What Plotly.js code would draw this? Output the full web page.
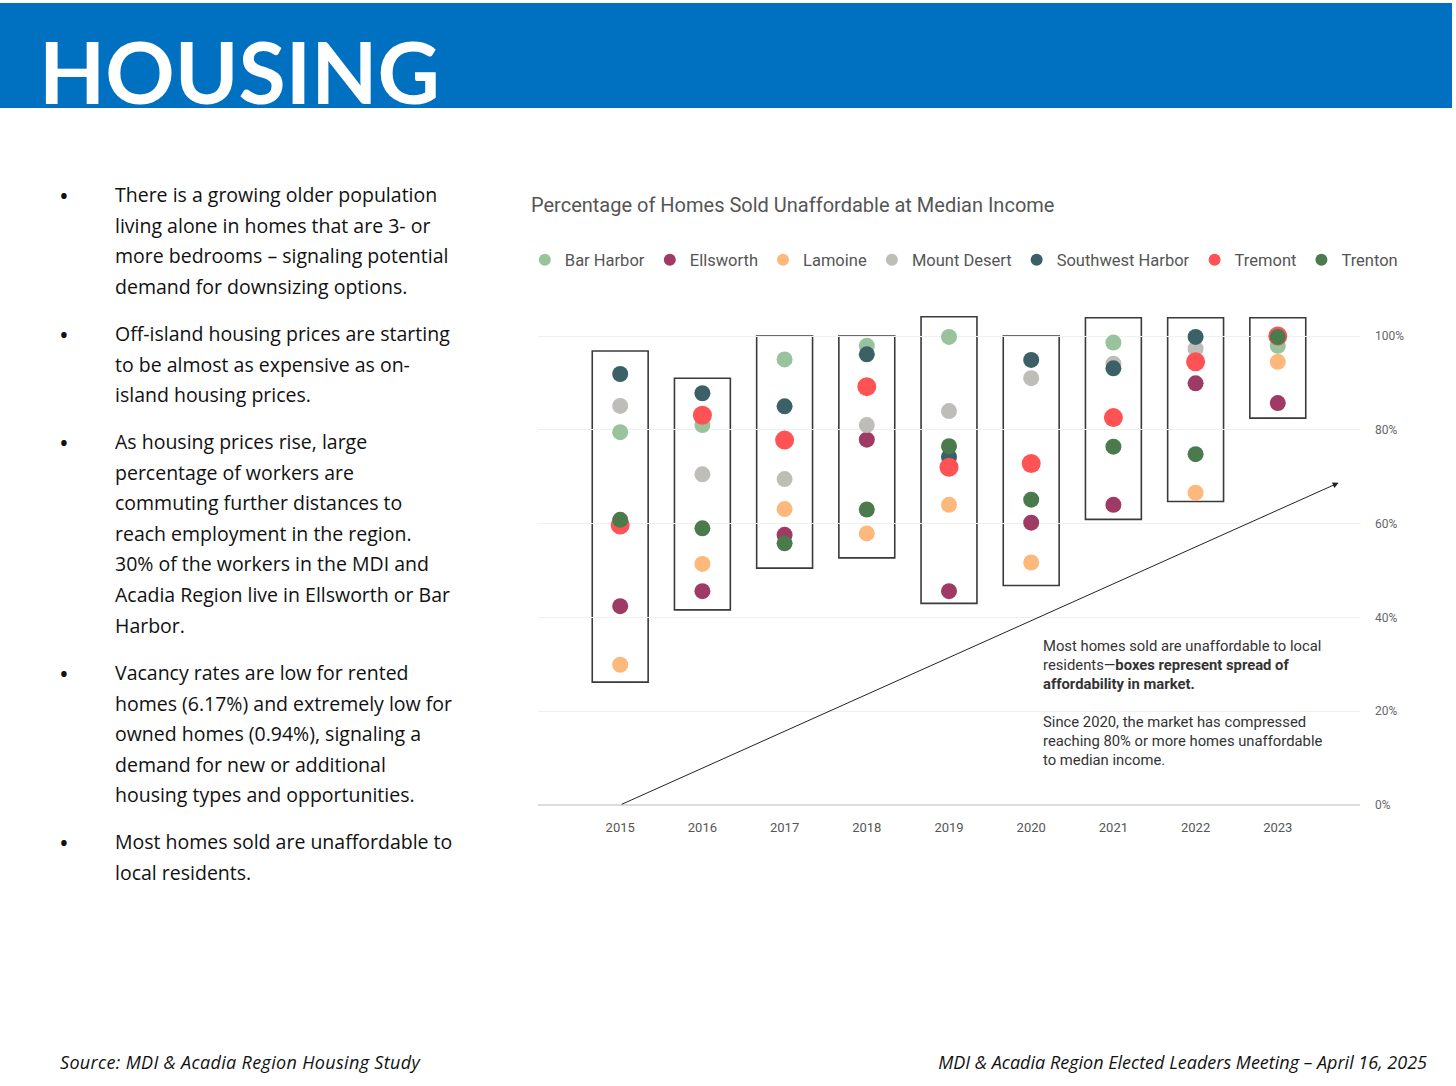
<!DOCTYPE html>
<html>
<head>
<meta charset="utf-8">
<script src="https://cdn.plot.ly/plotly-3.0.1.min.js"></script>
<style>
  html, body { margin:0; padding:0; }
  body { width:1456px; height:1086px; overflow:hidden; background:#fff; position:relative; font-family:"Open Sans", sans-serif; }
  #chart { position:absolute; left:0; top:0; width:1456px; height:1086px; z-index:1; }
  #banner { position:absolute; left:0; top:3px; width:1452px; height:105px; background:#0070C0; z-index:2; }
  #banner span { position:absolute; left:39px; top:34px; color:#fff; font-family:Lato, sans-serif; font-weight:bold; font-size:86px; line-height:0.8; letter-spacing:0px; }
  .para { position:absolute; left:115px; font-size:19.5px; line-height:30.6px; color:#111; z-index:2; white-space:nowrap; }
  .dot { position:absolute; left:59px; font-size:26px; line-height:30.6px; color:#111; z-index:2; }
  .foot { position:absolute; top:1050px; font-style:italic; font-size:18px; color:#111; z-index:2; font-family:"Open Sans", sans-serif; white-space:nowrap; }
</style>
</head>
<body>
<div id="chart"></div>
<div id="banner"><span>HOUSING</span></div>

<div class="dot" style="top:180px">•</div>
<div class="para" style="top:180px">There is a growing older population<br>living alone in homes that are 3- or<br>more bedrooms – signaling potential<br>demand for downsizing options.</div>
<div class="dot" style="top:319px">•</div>
<div class="para" style="top:319px">Off-island housing prices are starting<br>to be almost as expensive as on-<br>island housing prices.</div>
<div class="dot" style="top:427px">•</div>
<div class="para" style="top:427px">As housing prices rise, large<br>percentage of workers are<br>commuting further distances to<br>reach employment in the region.<br>30% of the workers in the MDI and<br>Acadia Region live in Ellsworth or Bar<br>Harbor.</div>
<div class="dot" style="top:658px">•</div>
<div class="para" style="top:658px">Vacancy rates are low for rented<br>homes (6.17%) and extremely low for<br>owned homes (0.94%), signaling a<br>demand for new or additional<br>housing types and opportunities.</div>
<div class="dot" style="top:827px">•</div>
<div class="para" style="top:827px">Most homes sold are unaffordable to<br>local residents.</div>

<div class="foot" style="left:60px; letter-spacing:0.33px">Source: MDI &amp; Acadia Region Housing Study</div>
<div class="foot" style="right:29px">MDI &amp; Acadia Region Elected Leaders Meeting – April 16, 2025</div>

<script>
const years = [2015, 2016, 2017, 2018, 2019, 2020, 2021, 2022, 2023];
const seriesNames = ["Bar Harbor", "Ellsworth", "Lamoine", "Mount Desert", "Southwest Harbor", "Tremont", "Trenton"];
const barHarbor       = [0.795, 0.810, 0.950, 0.979, 0.998, null,  0.986, null,  0.979];
const ellsworth       = [0.424, 0.456, 0.576, 0.779, 0.456, 0.602, 0.640, 0.899, 0.857];
const lamoine         = [0.299, 0.514, 0.631, 0.579, 0.640, 0.517, null,  0.666, 0.945];
const mountDesert     = [0.851, 0.705, 0.695, 0.810, 0.840, 0.910, 0.941, 0.973, null];
const southwestHarbor = [0.919, 0.878, 0.850, 0.961, 0.742, 0.949, 0.931, 0.998, null];
const tremont         = [0.597, 0.831, 0.778, 0.892, 0.720, 0.728, 0.826, 0.945, 1.000];
const trenton         = [0.608, 0.590, 0.558, 0.630, 0.765, 0.651, 0.764, 0.748, 0.998];
const boxTop    = [0.968, 0.910, 1.000, 1.000, 1.041, 1.000, 1.039, 1.039, 1.039];
const boxBottom = [0.262, 0.416, 0.505, 0.527, 0.430, 0.468, 0.609, 0.647, 0.825];
const arrowEnd = {x: 2023.74, y: 0.687};

const seriesValues = [barHarbor, ellsworth, lamoine, mountDesert, southwestHarbor, tremont, trenton];
const colors = ["#98C39C", "#9E3A64", "#FDB97B", "#BEBDB8", "#3B6166", "#FF5254", "#4B7B4D"];
const sizes = [16, 16, 16, 16, 16, 19, 16];

const traces = seriesNames.map((n, i) => ({
  type: "scatter", mode: "markers", name: n,
  x: years, y: seriesValues[i],
  marker: {color: colors[i], size: sizes[i]},
  hoverinfo: "x+y+name"
}));

const half = 0.34;
const shapes = years.map((yr, i) => ({
  type: "rect", xref: "x", yref: "y",
  x0: yr - half, x1: yr + half, y0: boxBottom[i], y1: boxTop[i],
  line: {color: "#3a3a3a", width: 1.6}, fillcolor: "rgba(0,0,0,0)", layer: "below"
}));

const layout = {
  width: 1456, height: 1086,
  margin: {l: 538, r: 96, t: 300, b: 268},
  paper_bgcolor: "rgba(0,0,0,0)", plot_bgcolor: "rgba(0,0,0,0)",
  font: {family: "Roboto, sans-serif", color: "#555"},
  title: {text: "Percentage of Homes Sold Unaffordable at Median Income",
          x: 531/1456, xanchor: "left", xref: "container",
          y: 1 - 205/1086, yanchor: "middle", yref: "container",
          font: {size: 20, color: "#555", family: "Roboto, sans-serif"}},
  showlegend: true,
  legend: {orientation: "h", x: -0.016, xanchor: "left", y: 1 + 40/518, yanchor: "middle",
           font: {size: 16.5, color: "#555"}, itemsizing: "constant", bgcolor: "rgba(0,0,0,0)",
           traceorder: "normal"},
  xaxis: {range: [2014, 2024], tickvals: years, ticktext: years.map(String),
          showgrid: false, zeroline: false, showline: false, ticks: "",
          tickfont: {size: 13, color: "#555"}},
  yaxis: {side: "right", range: [-0.02772, 1.07676], tick0: 0, dtick: 0.2, tickformat: ".0%",
          showgrid: true, gridcolor: "#efefef", gridwidth: 1,
          zeroline: true, zerolinecolor: "#dcdcdc", zerolinewidth: 1.5,
          showline: false, ticks: "", ticklabelstandoff: 14,
          tickfont: {size: 12, color: "#666"}},
  shapes: shapes,
  annotations: [
    {xref: "x", yref: "y", x: arrowEnd.x, y: arrowEnd.y, axref: "x", ayref: "y", ax: years[0], ay: 0,
     text: "", showarrow: true, arrowhead: 2, arrowsize: 1.2, arrowwidth: 1, arrowcolor: "#222", standoff: 0},
    {xref: "paper", yref: "paper", x: (1041-538)/822, y: (818-664.5)/518, xanchor: "left", yanchor: "middle",
     align: "left", showarrow: false, font: {size: 14.8, color: "#333"},
     text: "Most homes sold are unaffordable to local<br>residents—<b>boxes represent spread of</b><br><b>affordability in market.</b>"},
    {xref: "paper", yref: "paper", x: (1041-538)/822, y: (818-741)/518, xanchor: "left", yanchor: "middle",
     align: "left", showarrow: false, font: {size: 14.8, color: "#333"},
     text: "Since 2020, the market has compressed<br>reaching 80% or more homes unaffordable<br>to median income."}
  ]
};

Plotly.newPlot("chart", traces, layout, {displayModeBar: false, responsive: false});
</script>
</body>
</html>
